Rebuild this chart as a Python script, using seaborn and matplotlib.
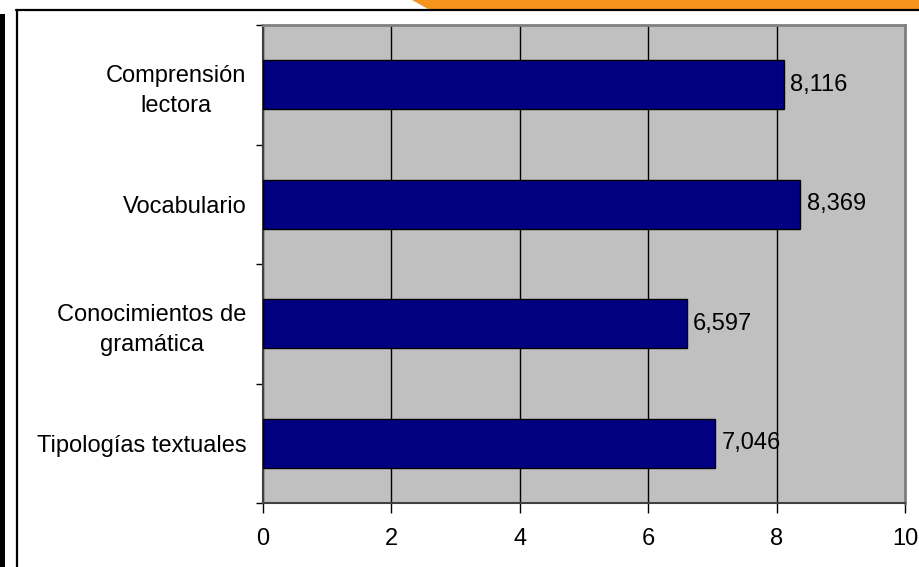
import matplotlib
matplotlib.use("Agg")
import matplotlib.pyplot as plt
import seaborn as sns
import pandas as pd
from matplotlib.patches import Polygon, Rectangle
from matplotlib.lines import Line2D

categories = ["Comprensión\nlectora", "Vocabulario", "Conocimientos de\ngramática", "Tipologías textuales"]
values = [8.116, 8.369, 6.597, 7.046]
x_ticks = [0, 2, 4, 6, 8, 10]

sns.set_theme(style="white")
plt.rcParams['font.family'] = ['Liberation Sans', 'DejaVu Sans']

W, H = 919, 567
fig = plt.figure(figsize=(W / 100, H / 100), dpi=100)
fig.patch.set_facecolor("white")

def fx(px):
    return px / W

def fy(py):
    return 1 - py / H

ax = fig.add_axes([fx(263), fy(503), (905 - 263) / W, (503 - 25) / H])
ax.set_facecolor("#C0C0C0")

df = pd.DataFrame({"cat": categories, "val": values})
sns.barplot(data=df, y="cat", x="val", orient="h", color="#000080",
            saturation=1, width=0.41, edgecolor="black", linewidth=1, ax=ax, zorder=3)

ax.set_xlim(0, 10)
ax.set_ylim(len(categories) - 0.5, -0.5)
ax.set_xticks(x_ticks)
ax.set_xticklabels([str(t) for t in x_ticks], fontsize=17)
ax.grid(axis="x", color="black", linewidth=1, zorder=1)
ax.set_axisbelow(True)
ax.set_xlabel("")
ax.set_ylabel("")
ax.tick_params(axis="x", direction="out", length=7, width=1, color="black", pad=11, bottom=True)
ax.tick_params(axis="y", which="major", length=0, pad=12, labelsize=17)
for lab in ax.get_yticklabels():
    lab.set_multialignment("center")
    lab.set_linespacing(1.45)
    lab.set_color("black")
for lab in ax.get_xticklabels():
    lab.set_color("black")
ax.set_yticks([i + 0.5 for i in range(-1, len(categories))], minor=True)
ax.tick_params(axis="y", which="minor", direction="out", length=5, width=1, color="black", left=True)

for s in ["left", "bottom"]:
    ax.spines[s].set_color("#404040")
    ax.spines[s].set_linewidth(1.5)
for s in ["top", "right"]:
    ax.spines[s].set_color("#808080")
    ax.spines[s].set_linewidth(2)

for i, v in enumerate(values):
    ax.text(v + 0.1, i, f"{v:.3f}".replace(".", ","), va="center", ha="left",
            fontsize=17, color="black", zorder=5)

# decorative frame
fig.patches.append(Polygon([[fx(412), fy(0)], [fx(919), fy(0)], [fx(919), fy(8.5)], [fx(428), fy(8.5)]],
                           closed=True, facecolor="#F7941D", edgecolor="none", transform=fig.transFigure))
fig.lines.append(Line2D([fx(16), fx(919)], [fy(9.5), fy(9.5)], color="black", linewidth=1.6, transform=fig.transFigure))
fig.lines.append(Line2D([fx(16.5), fx(16.5)], [fy(9.5), fy(567)], color="black", linewidth=1.6, transform=fig.transFigure))
fig.patches.append(Rectangle((0, 0), fx(4.5), fy(14), facecolor="black", edgecolor="none", transform=fig.transFigure))

fig.savefig("out.png", dpi=100)
